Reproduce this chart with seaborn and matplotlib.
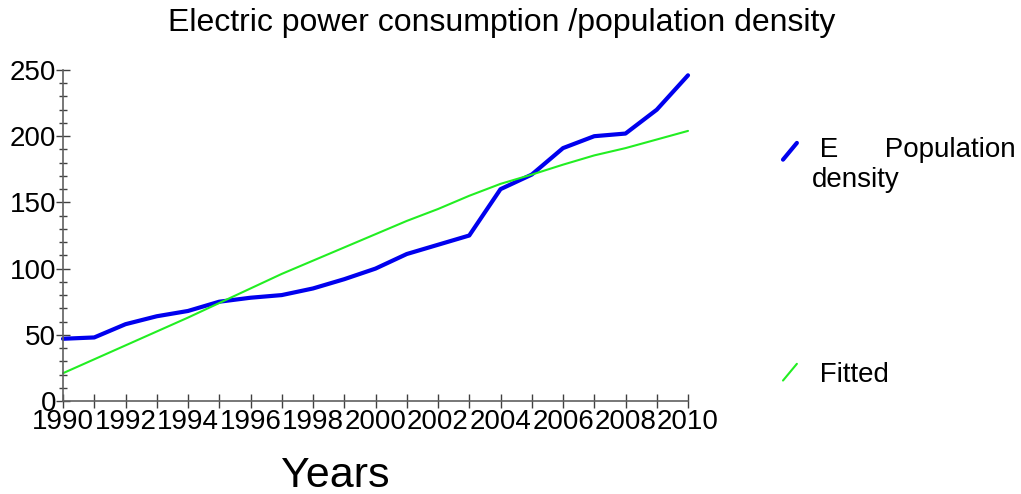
import numpy as np
import pandas as pd
import matplotlib
matplotlib.use('Agg')
import matplotlib.pyplot as plt
from matplotlib.lines import Line2D
from matplotlib.legend_handler import HandlerLine2D
from matplotlib.ticker import MultipleLocator
import seaborn as sns

years = list(range(1990, 2011))
consumption = [47, 48, 58, 64, 68, 75, 78, 80, 85, 92, 100, 111, 118, 125,
               160, 171, 191, 200, 202, 220, 246]
fitted = [21, 31.5, 42, 52.5, 63, 74, 85, 96, 106, 116, 126, 136, 145, 155,
          164, 171, 178.5, 185.5, 191, 197.5, 204]

df = pd.DataFrame({'Year': years, 'E': consumption, 'Fitted': fitted})

sns.set_style('white')
plt.rcParams['font.family'] = ['Liberation Sans', 'DejaVu Sans']
plt.rcParams['text.color'] = 'black'
plt.rcParams['axes.labelcolor'] = 'black'


class DiagonalHandler(HandlerLine2D):
    # legend key drawn as a short slanted stroke, optionally raised
    def __init__(self, yshift=0, **kw):
        super().__init__(**kw)
        self.yshift = yshift

    def create_artists(self, legend, orig_handle, xdescent, ydescent,
                       width, height, fontsize, trans):
        y0 = -ydescent + self.yshift
        line = Line2D([-xdescent, -xdescent + width], [y0, y0 + height])
        self.update_prop(line, orig_handle, legend)
        line.set_transform(trans)
        return [line]


fig = plt.figure(figsize=(10.21, 4.94), dpi=100)
ax = fig.add_axes([63 / 1021, 93 / 494, 625 / 1021, 331 / 494])

sns.lineplot(data=df, x='Year', y='E', color='#0000ee', linewidth=3.0,
             ax=ax, clip_on=False)
sns.lineplot(data=df, x='Year', y='Fitted', color='#22ee22', linewidth=1.5,
             ax=ax, clip_on=False)

ax.set_xlim(1990, 2010)
ax.set_ylim(0, 250)
ax.xaxis.set_major_locator(MultipleLocator(2))
ax.xaxis.set_minor_locator(MultipleLocator(1))
ax.yaxis.set_major_locator(MultipleLocator(50))
ax.yaxis.set_minor_locator(MultipleLocator(10))

for s in ['top', 'right']:
    ax.spines[s].set_visible(False)
for s in ['left', 'bottom']:
    ax.spines[s].set_color('#606060')
    ax.spines[s].set_linewidth(1.2)

ax.tick_params(axis='both', which='both', direction='inout', color='#404040',
               width=1, labelsize=20, labelcolor='black',
               left=True, bottom=True)
ax.tick_params(axis='x', which='both', length=10, pad=1)
ax.tick_params(axis='y', which='major', length=10, pad=0)
ax.tick_params(axis='y', which='minor', length=6)

ax.set_ylabel('')
ax.set_xlabel('Years', fontsize=31)
ax.xaxis.set_label_coords((335 - 63) / 625, -0.165)

fig.suptitle('Electric power consumption /population density', fontsize=23,
             x=502 / 1021, y=1 - 8 / 494, va='top')

h1 = Line2D([], [], color='#0000ee', linewidth=3.0)
h2 = Line2D([], [], color='#22ee22', linewidth=1.5)
leg1 = fig.legend([h1], [' E      Population\ndensity'], loc='upper left',
                  bbox_to_anchor=(783 / 1021, 1 - 137 / 494), frameon=False,
                  fontsize=20, handlelength=0.5, handleheight=0.55,
                  handletextpad=0.55, borderpad=0, borderaxespad=0,
                  handler_map={Line2D: DiagonalHandler(yshift=10)})
leg2 = fig.legend([h2], [' Fitted'], loc='upper left',
                  bbox_to_anchor=(783 / 1021, 1 - 362 / 494), frameon=False,
                  fontsize=20, handlelength=0.5, handleheight=0.55,
                  handletextpad=0.55, borderpad=0, borderaxespad=0,
                  handler_map={Line2D: DiagonalHandler()})

fig.savefig('out.png', dpi=100)
